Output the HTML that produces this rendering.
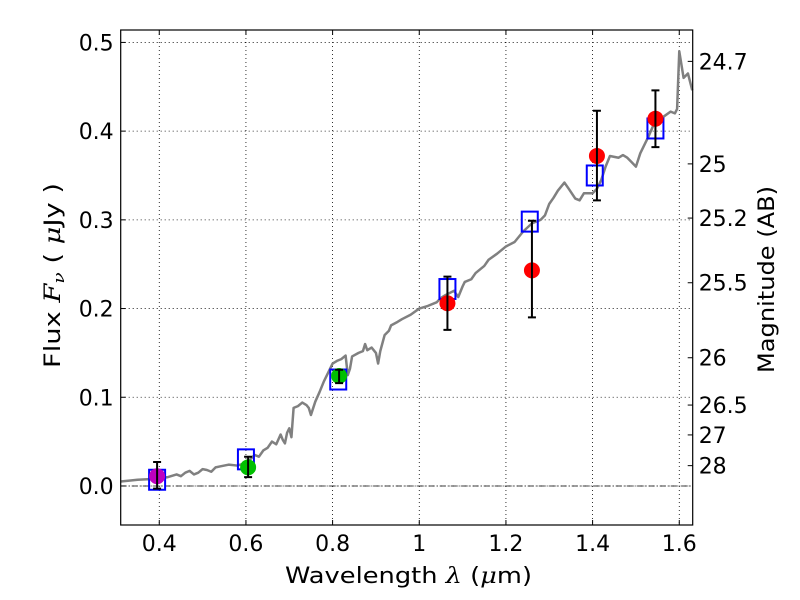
<!DOCTYPE html>
<html><head><meta charset="utf-8"><style>
body{margin:0;background:#fff}
svg text{font-family:"DejaVu Sans","Liberation Sans",sans-serif;fill:#000}
</style></head><body>
<svg id="chart" width="800" height="600" viewBox="0 0 800 600" style="position:absolute;left:0;top:0">
<rect width="800" height="600" fill="#fff"/>
<g id="grid"></g><g id="spec"></g><g id="marks"></g><g id="axes"></g>
<text x="285" y="583" font-size="22" textLength="247" lengthAdjust="spacingAndGlyphs">Wavelength  <tspan font-family="DejaVu Serif" font-style="italic">λ</tspan> (<tspan font-family="DejaVu Serif" font-style="italic">μ</tspan>m)</text>
<text transform="translate(60,368) rotate(-90)" font-size="22" textLength="185" lengthAdjust="spacingAndGlyphs">Flux  <tspan font-family="DejaVu Serif" font-style="italic">F</tspan><tspan font-family="DejaVu Serif" font-style="italic" font-size="15" dy="4">ν</tspan><tspan dy="-4">  (  </tspan><tspan font-family="DejaVu Serif" font-style="italic">μ</tspan>Jy )</text>
<text transform="translate(774,373) rotate(-90)" font-size="22" textLength="187" lengthAdjust="spacingAndGlyphs">Magnitude (AB)</text>
</svg>
<script>
const specX=[0.311,0.35,0.39,0.42,0.44,0.45,0.46,0.47,0.48,0.49,0.50,0.51,0.52,0.53,0.54,0.56,0.58,0.60,0.61,0.62,0.63,0.64,0.65,0.66,0.67,0.68,0.685,0.69,0.695,0.70,0.705,0.71,0.72,0.73,0.74,0.745,0.75,0.76,0.77,0.78,0.79,0.80,0.81,0.82,0.83,0.835,0.84,0.845,0.86,0.87,0.875,0.88,0.89,0.90,0.905,0.91,0.92,0.93,0.935,0.95,0.96,0.98,1.0,1.02,1.04,1.05,1.06,1.08,1.09,1.10,1.105,1.12,1.13,1.15,1.16,1.18,1.2,1.22,1.24,1.26,1.28,1.29,1.30,1.31,1.32,1.335,1.345,1.36,1.37,1.38,1.40,1.41,1.42,1.43,1.44,1.46,1.47,1.48,1.49,1.50,1.51,1.52,1.53,1.545,1.56,1.58,1.59,1.595,1.60,1.61,1.62,1.63];
const specY=[0.005,0.007,0.008,0.010,0.013,0.011,0.015,0.017,0.013,0.015,0.019,0.018,0.016,0.021,0.022,0.024,0.023,0.026,0.030,0.035,0.033,0.040,0.043,0.050,0.047,0.058,0.052,0.048,0.060,0.065,0.055,0.088,0.090,0.094,0.091,0.088,0.080,0.095,0.106,0.118,0.128,0.138,0.141,0.143,0.147,0.125,0.132,0.146,0.150,0.152,0.160,0.153,0.156,0.150,0.138,0.152,0.170,0.175,0.181,0.185,0.188,0.193,0.200,0.203,0.207,0.212,0.215,0.220,0.213,0.225,0.230,0.233,0.240,0.248,0.255,0.262,0.270,0.275,0.287,0.296,0.300,0.305,0.318,0.325,0.333,0.342,0.335,0.324,0.322,0.330,0.330,0.335,0.345,0.360,0.372,0.370,0.373,0.370,0.365,0.360,0.375,0.385,0.395,0.412,0.415,0.422,0.420,0.425,0.490,0.460,0.465,0.446];
const sqX=[0.395,0.60,0.813,1.065,1.255,1.405,1.545];
const sqY=[0.007,0.030,0.120,0.222,0.298,0.350,0.403];
const ptX=[0.395,0.605,0.815,1.065,1.26,1.41,1.545];
const ptY=[0.011,0.021,0.124,0.206,0.243,0.372,0.414];
const ptLo=[-0.003,0.010,0.116,0.176,0.190,0.322,0.382];
const ptHi=[0.027,0.033,0.131,0.236,0.299,0.423,0.446];
const ptColor=["#bf00bf","#00bf00","#00bf00","#ff0000","#ff0000","#ff0000","#ff0000"];
const xTicks=[0.4,0.6,0.8,1.0,1.2,1.4,1.6];
const xTickLabels=["0.4","0.6","0.8","1","1.2","1.4","1.6"];
const yTicks=[0,0.1,0.2,0.3,0.4,0.5];
const yTickLabels=["0.0","0.1","0.2","0.3","0.4","0.5"];
const magTicks=[24.7,25,25.2,25.5,26,26.5,27,28];
const magLabels=["24.7","25","25.2","25.5","26","26.5","27","28"];

const L=120.7,R=692.7,T=30,B=525,x0=0.311,x1=1.631,y0=-0.044,y1=0.514;
const sx=v=>L+(v-x0)/(x1-x0)*(R-L);
const sy=v=>B-(v-y0)/(y1-y0)*(B-T);
const NS="http://www.w3.org/2000/svg";
function mk(tag,attrs,parent,txt){const e=document.createElementNS(NS,tag);for(const k in attrs)e.setAttribute(k,attrs[k]);if(txt!==undefined)e.textContent=txt;parent.appendChild(e);return e;}
const grid=document.getElementById('grid'),spec=document.getElementById('spec'),marks=document.getElementById('marks'),axes=document.getElementById('axes');

xTicks.forEach((t,i)=>{
 const g=mk('line',{x1:sx(t),x2:sx(t),y1:T,y2:B,stroke:'#000','stroke-width':0.8,'stroke-dasharray':'1,3'},grid);
 
 
 mk('line',{x1:sx(t),x2:sx(t),y1:B,y2:B-5,stroke:'#000'},axes);
 mk('line',{x1:sx(t),x2:sx(t),y1:T,y2:T+5,stroke:'#000'},axes);
 const tx=mk('text',{x:sx(t),y:B+26,'font-size':22,'text-anchor':'middle'},axes,xTickLabels[i]);
 
 
});
yTicks.forEach((t,i)=>{
 const g=mk('line',{x1:L,x2:R,y1:sy(t),y2:sy(t),stroke:'#000','stroke-width':0.8,'stroke-dasharray':'1,3'},grid);
 
 
 mk('line',{x1:L,x2:L+5,y1:sy(t),y2:sy(t),stroke:'#000'},axes);
 const tx=mk('text',{x:L-7,y:sy(t)+8,'font-size':22,'text-anchor':'end'},axes,yTickLabels[i]);
 
 
});
const zl=mk('line',{x1:L,x2:R,y1:sy(0),y2:sy(0),stroke:'#000','stroke-width':0.8,'stroke-dasharray':'6,2,1,2'},grid);



magTicks.forEach((m,i)=>{
 const f=Math.pow(10,(23.9-m)/2.5);
 mk('line',{x1:R,x2:R-5,y1:sy(f),y2:sy(f),stroke:'#000'},axes);
 const tx=mk('text',{x:R+6,y:sy(f)+8,'font-size':22},axes,magLabels[i]);
 
 
});

const sp=mk('polyline',{points:specX.map((x,i)=>sx(x)+','+sy(specY[i])).join(' '),fill:'none',stroke:'#808080','stroke-width':2.5,'stroke-linejoin':'round'},spec);



sqX.forEach((x,i)=>{
 const r=mk('rect',{x:sx(x)-8,y:sy(sqY[i])-10,width:16,height:20,fill:'none',stroke:'#0000ff','stroke-width':2},marks);
 
 
});
ptX.forEach((x,i)=>{
 const c=mk('circle',{cx:sx(x),cy:sy(ptY[i]),r:8,fill:ptColor[i]},marks);
 
 
});
ptX.forEach((x,i)=>{
 const X=sx(x),a=sy(ptLo[i]),b=sy(ptHi[i]);
 const e=mk('path',{d:`M${X},${a}V${b}M${X-4},${a}H${X+4}M${X-4},${b}H${X+4}`,stroke:'#000','stroke-width':2,fill:'none'},marks);
 
 
});

const fr=mk('rect',{x:L,y:T,width:R-L,height:B-T,fill:'none',stroke:'#000','stroke-width':1.2},axes);


</script>
</body></html>
